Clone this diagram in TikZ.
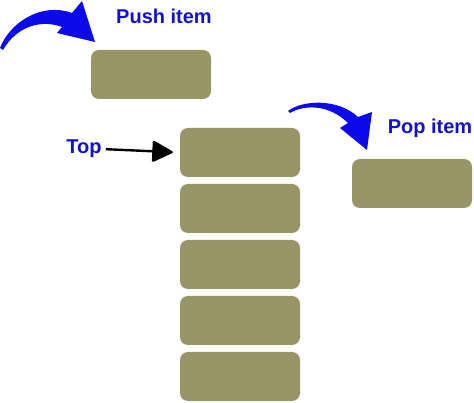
\documentclass[tikz,border=0pt]{standalone}
\usepackage{fontspec}
\setmainfont{Liberation Sans}
\usetikzlibrary{arrows.meta}
\definecolor{itemfill}{RGB}{152,149,103}
\definecolor{pushblue}{RGB}{10,10,235}
\definecolor{textblue}{RGB}{18,18,205}
\tikzset{
  item/.style={fill=itemfill, rounded corners=8pt, minimum width=120pt,
    minimum height=49pt, inner sep=0pt},
  lbl/.style={text=textblue, font=\bfseries\fontsize{20}{24}\selectfont, inner sep=0pt},
  toparrow/.style={line width=2.4pt, -{Triangle[length=22pt,width=22pt,round]}},
}
\begin{document}
\begin{tikzpicture}[x=1pt,y=-1pt]
      \useasboundingbox (0,0) rectangle (474,403);
      % items
      \node[item] (push) at (151,74.5) {};
      \node[item] (s1) at (240,152.5) {};
      \node[item] (s2) at (240,208.5) {};
      \node[item] (s3) at (240,264.5) {};
      \node[item] (s4) at (240,320.5) {};
      \node[item] (s5) at (240,376.5) {};
      \node[item] (pop) at (412,183.5) {};
      % labels
      \node[lbl] (pushlbl) at (164,16) {Push item};
      \node[lbl] (poplbl) at (430,128) {Pop item};
      \node[lbl] (toplbl) at (84,149) {Top};
      \draw[toparrow, shorten <=4pt, shorten >=7pt] (toplbl.east) -- (s1.west);
      % curved arrows
      \fill[pushblue] (0,48) .. controls (10,22) and (42,2) .. (72,13)
        -- (82,1) -- (95,42) -- (57,33) -- (62,27)
        .. controls (44,20) and (18,24) .. (3,50) -- cycle;
      \fill[pushblue] (288,111) .. controls (302,100) and (338,98) .. (358,117)
        -- (372,112) -- (367,150) -- (340,128) -- (348,123)
        .. controls (330,105) and (305,104) .. (290,113) -- cycle;
    \end{tikzpicture}
\end{document}
